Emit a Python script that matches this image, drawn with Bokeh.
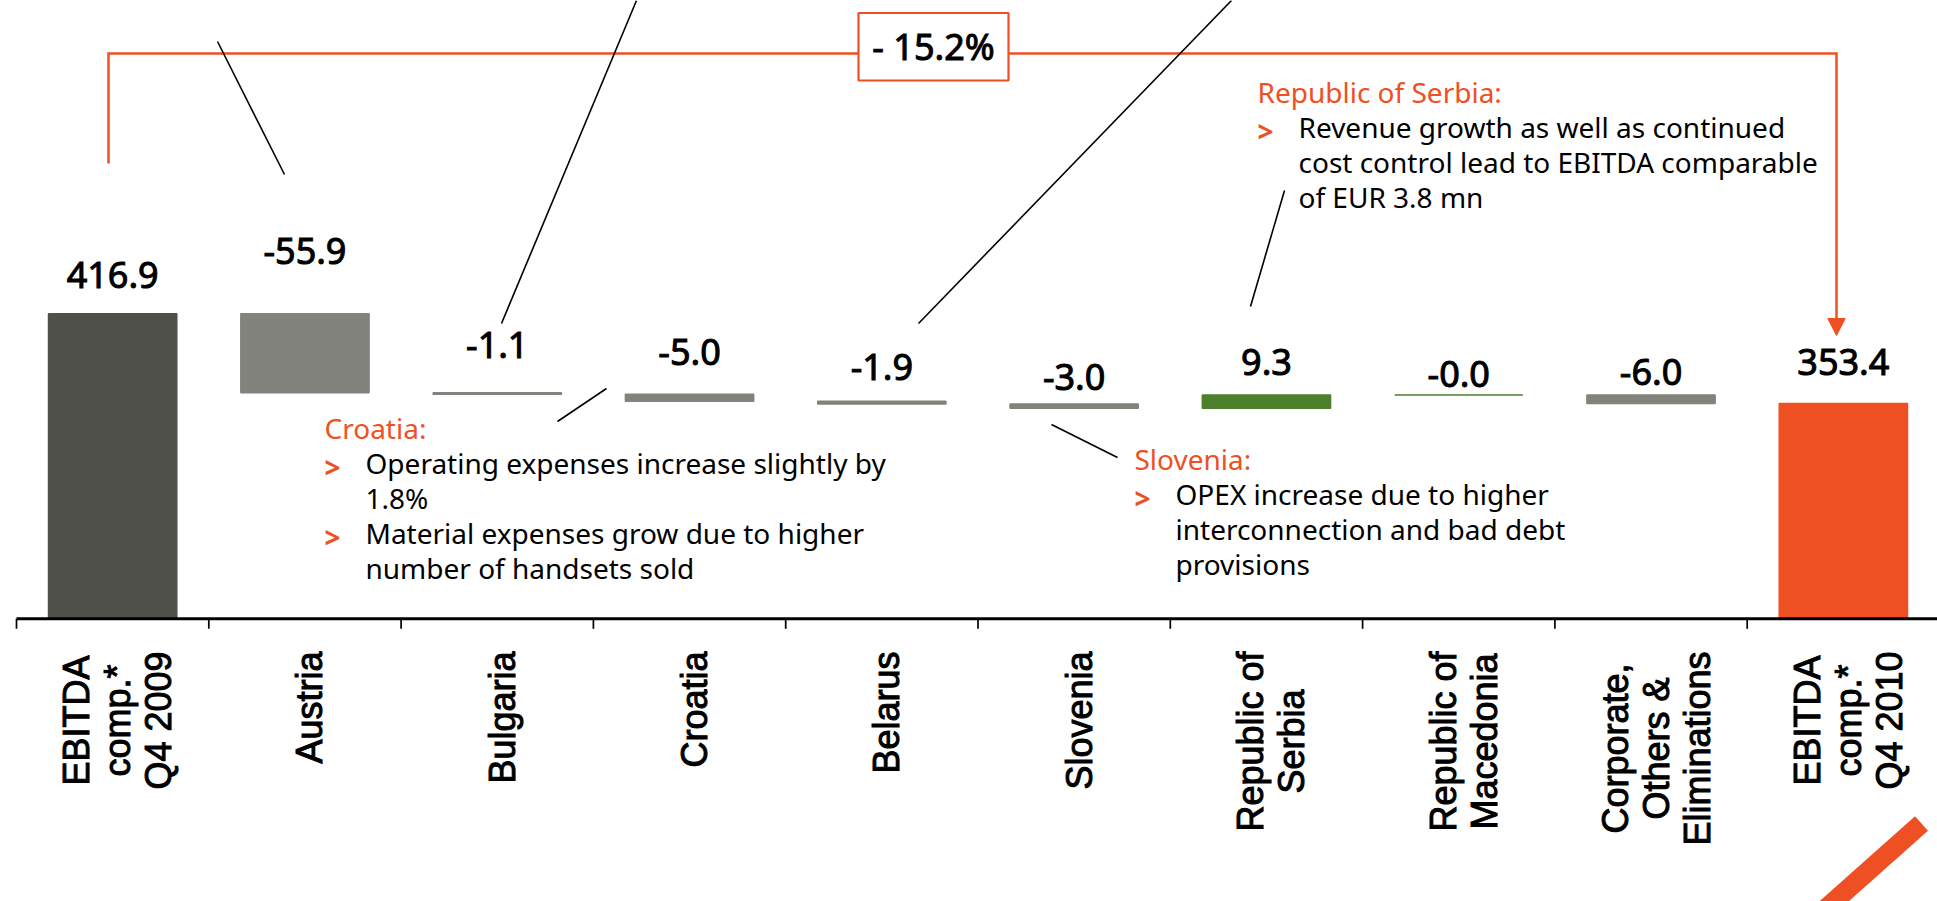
import numpy as np
from bokeh.plotting import figure
from bokeh.models import Range1d
from bokeh.core.properties import value
from bokeh.embed import file_html
from bokeh.resources import INLINE

# ---------------- data ----------------
category_lines = [
    ["EBITDA", "comp.*", "Q4 2009"],
    ["Austria"],
    ["Bulgaria"],
    ["Croatia"],
    ["Belarus"],
    ["Slovenia"],
    ["Republic of", "Serbia"],
    ["Republic of", "Macedonia"],
    ["Corporate,", "Others &", "Eliminations"],
    ["EBITDA", "comp.*", "Q4 2010"],
]
start_value = 416.9
changes = [-55.9, -1.1, -5.0, -1.9, -3.0, 9.3, -0.0, -6.0]
end_value = 353.4
value_labels = ["416.9", "-55.9", "-1.1", "-5.0", "-1.9", "-3.0", "9.3", "-0.0", "-6.0", "353.4"]
change_label = "- 15.2%"

croatia_title = "Croatia:"
croatia_bullets = [["Operating expenses increase slightly by", "1.8%"],
                   ["Material expenses grow due to higher", "number of handsets sold"]]
slovenia_title = "Slovenia:"
slovenia_bullets = [["OPEX increase due to higher", "interconnection and bad debt", "provisions"]]
serbia_title = "Republic of Serbia:"
serbia_bullets = [["Revenue growth as well as continued", "cost control lead to EBITDA comparable",
                   "of EUR 3.8 mn"]]

# ---------------- styles / layout ----------------
ORANGE = "#ef5023"
bar_colors = ["#50504b", "#82837c", "#82837c", "#82837c", "#82837c", "#82837c",
              "#4e7f2d", "#4e7f2d", "#82837c", "#ef5023"]
label_offsets_px = [26, 50, 35, 29, 21, 14, 20, 8, 10, 28]

W, H = 1937, 901
AXIS_PX, AXIS_VAL, K = 618.3, 201.0, 1.413     # truncated value axis
X0_PX, CAT_PX = 16.0, 192.3


def dx(X):
    return (X - X0_PX) / CAT_PX


def dy(Y):
    return AXIS_VAL + (AXIS_PX - Y) / K


def ty(Yb, size):
    # text drawn with 'middle' baseline: place the middle of caps above the baseline
    return dy(Yb - 0.36 * size)


ARIAL = {' ': 278, '&': 667, '*': 389, ',': 278, '.': 278, 'A': 667, 'B': 667, 'C': 722,
         'D': 722, 'E': 667, 'I': 278, 'M': 833, 'O': 778, 'Q': 778, 'R': 722, 'S': 667,
         'T': 611, 'a': 556, 'b': 556, 'c': 500, 'd': 556, 'e': 556, 'f': 278, 'g': 556,
         'h': 556, 'i': 222, 'l': 222, 'm': 833, 'n': 556, 'o': 556, 'p': 556, 'r': 333,
         's': 500, 't': 278, 'u': 556, 'v': 500}


def text_w(s, size):
    return sum(ARIAL.get(c, 556) for c in s) * size / 1000.0


p = figure(width=W, height=H, x_range=Range1d(dx(0), dx(W)),
           y_range=Range1d(dy(H), dy(0)), output_backend="svg",
           toolbar_location=None, x_axis_type=None, y_axis_type=None, min_border=0)
p.outline_line_color = None
p.background_fill_color = "white"
p.border_fill_color = "white"

n = len(category_lines)
xc = np.arange(n) + 0.5

# waterfall levels
tops, bottoms = [start_value], [AXIS_VAL]
lvl = start_value
for c in changes:
    new = lvl + c
    tops.append(max(lvl, new))
    bottoms.append(min(lvl, new))
    lvl = new
tops.append(end_value)
bottoms.append(AXIS_VAL)

p.vbar(x=xc, width=0.667, top=tops, bottom=bottoms, fill_color=bar_colors,
       line_color=bar_colors, line_width=1.5)

# value labels
VSIZE = 36
p.text(x=xc, y=[ty(AXIS_PX - (t - AXIS_VAL) * K - o, VSIZE) for t, o in zip(tops, label_offsets_px)],
       text=value_labels, text_font=value("Noto Sans"), text_font_size=value("36px"),
       text_align="center", text_baseline="middle", text_color="black",
       text_outline_color="black")

# x axis line and ticks at category boundaries
p.line([0, dx(W)], [AXIS_VAL, AXIS_VAL], line_color="black", line_width=3)
bounds = np.arange(n)
p.segment(x0=bounds, y0=[AXIS_VAL] * n, x1=bounds, y1=[AXIS_VAL - 10 / K] * n,
          line_color="black", line_width=1.7)

# category labels (rotated, lines centred, block top near axis)
LBL_SIZE, LINE_H = 36, 41
lx, ly, lt = [], [], []
for i, lines in enumerate(category_lines):
    wmax = max(text_w(s, LBL_SIZE) for s in lines)
    cy = 651 + wmax / 2
    cx = X0_PX + (i + 0.5) * CAT_PX + 5
    m = len(lines)
    for j, s in enumerate(lines):
        lx.append(dx(cx + (j - (m - 1) / 2) * LINE_H))
        ly.append(dy(cy))
        lt.append(s)
p.text(x=lx, y=ly, text=lt, angle=np.pi / 2, text_font=value("Liberation Sans"),
       text_font_size=value("36px"), text_align="center", text_baseline="middle",
       text_color="black", text_outline_color="black")

# bracket with arrow and percentage box
p.line([dx(108), dx(108), dx(1836), dx(1836)], [dy(163), dy(53), dy(53), dy(319)],
       line_color=ORANGE, line_width=2.5, line_join="miter")
p.patch([dx(1827.3), dx(1844.7), dx(1836)], [dy(318), dy(318), dy(335)],
        fill_color=ORANGE, line_color=ORANGE)
p.quad(left=[dx(858)], right=[dx(1008)], top=[dy(12.5)], bottom=[dy(80)],
       fill_color="white", line_color=ORANGE, line_width=2.2)
p.text(x=[dx(933)], y=[ty(59.3, 36)], text=[change_label], text_font=value("Noto Sans"),
       text_font_size=value("36px"), text_align="center", text_baseline="middle",
       text_color="black", text_outline_color="black")

# leader lines
seg = [((217, 41), (284, 174)), ((636, 0), (501, 323)), ((1231, 0), (918, 323)),
       ((1284, 190), (1250, 306)), ((606, 388), (557, 421)), ((1051, 424), (1117, 457))]
p.segment(x0=[dx(a[0]) for a, b in seg], y0=[dy(a[1]) for a, b in seg],
          x1=[dx(b[0]) for a, b in seg], y1=[dy(b[1]) for a, b in seg],
          line_color="black", line_width=1.6)


# callouts
def callout(X, Ytitle, title, bullets, indent=41, lh=35, size=28):
    p.text(x=[dx(X)], y=[ty(Ytitle, size)], text=[title], text_font=value("Noto Sans"),
           text_font_size=value("%dpx" % size), text_color=ORANGE, text_baseline="middle")
    bx, by, tx, tyy, tt = [], [], [], [], []
    Y = Ytitle
    for b in bullets:
        Y += lh
        bx.append(dx(X))
        by.append(ty(Y + 4, size))
        for k, s in enumerate(b):
            if k > 0:
                Y += lh
            tx.append(dx(X + indent))
            tyy.append(ty(Y, size))
            tt.append(s)
    p.text(x=bx, y=by, text=[">"] * len(bx), text_font=value("Noto Sans"),
           text_font_size=value("%dpx" % size), text_font_style="bold", text_color=ORANGE,
           text_baseline="middle")
    p.text(x=tx, y=tyy, text=tt, text_font=value("Noto Sans"),
           text_font_size=value("%dpx" % size), text_color="black", text_baseline="middle")


callout(324, 438, croatia_title, croatia_bullets)
callout(1134, 469, slovenia_title, slovenia_bullets)
callout(1257, 102, serbia_title, serbia_bullets)

# decorative slash
p.segment(x0=[dx(1921)], y0=[dy(823)], x1=[dx(1812)], y1=[dy(920)], line_color=ORANGE,
          line_width=19.5, line_cap="butt")

open("out.html", "w").write(file_html(p, INLINE))
